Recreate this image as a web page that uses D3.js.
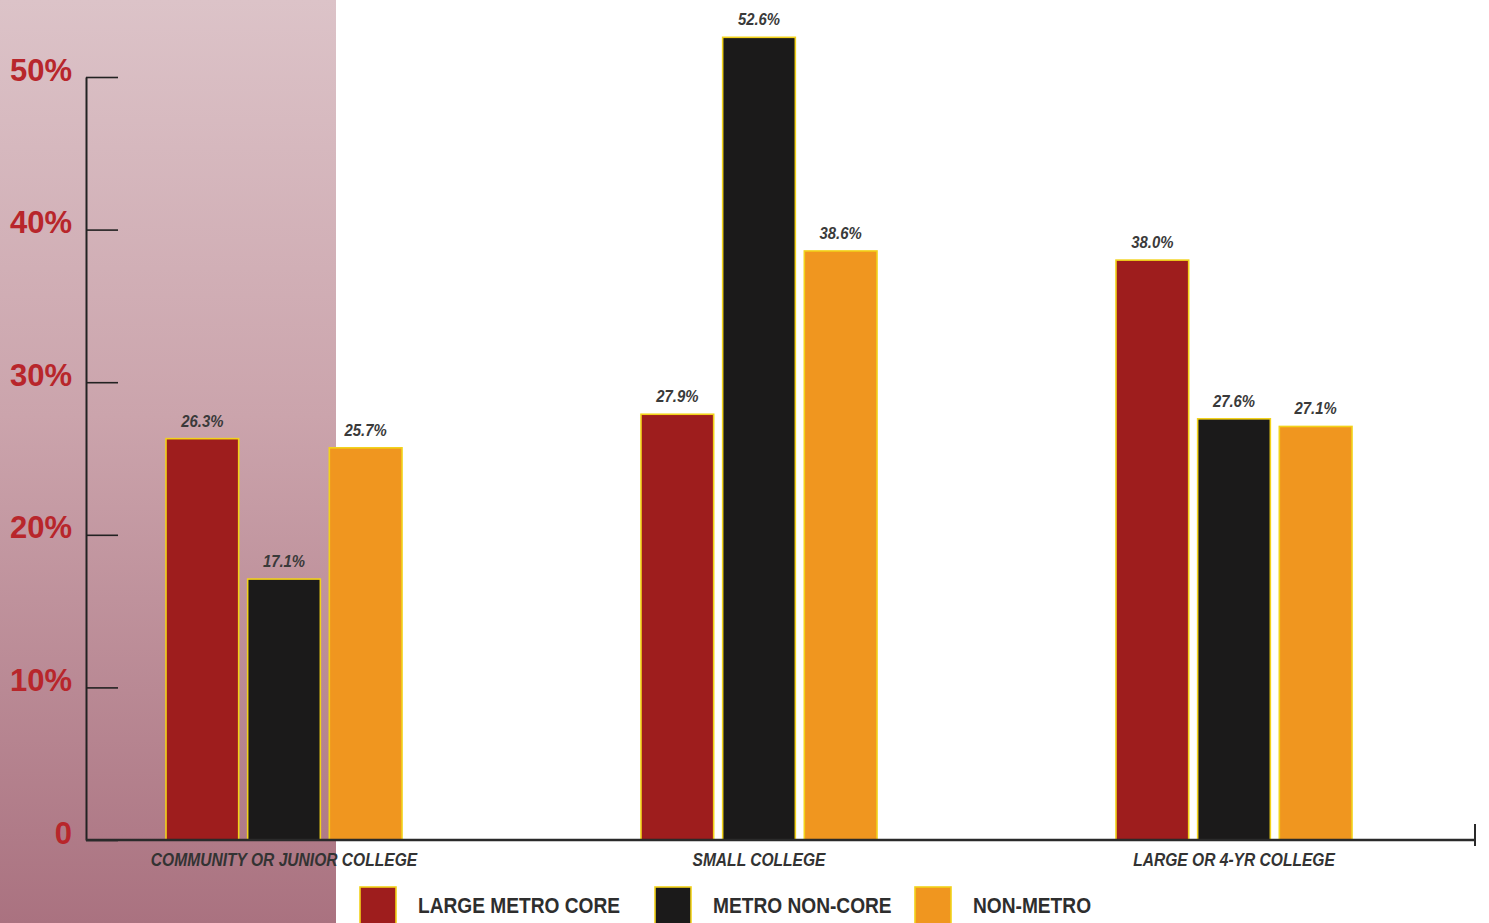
<!DOCTYPE html>
<html>
<head>
<meta charset="utf-8">
<script src="https://cdn.jsdelivr.net/npm/d3@7"></script>
<style>
  html, body { margin: 0; padding: 0; background: #ffffff; overflow: hidden; }
  svg { display: block; }
</style>
</head>
<body>
<svg id="chart" width="1489" height="923"></svg>
<script>
// ---- data ----
const categories = ["COMMUNITY OR JUNIOR COLLEGE", "SMALL COLLEGE", "LARGE OR 4-YR COLLEGE"];
const seriesNames = ["LARGE METRO CORE", "METRO NON-CORE", "NON-METRO"];
const largeMetroCore = [26.3, 27.9, 38.0];
const metroNonCore = [17.1, 52.6, 27.6];
const nonMetro = [25.7, 38.6, 27.1];
const yTicks = [0, 10, 20, 30, 40, 50];
const seriesColors = ["#9e1d1d", "#1b1a1a", "#f0961f"];

const seriesValues = [largeMetroCore, metroNonCore, nonMetro];
const rows = categories.map((c, i) => ({
  category: c,
  values: seriesNames.map((s, j) => ({ series: s, value: seriesValues[j][i] }))
}));

const svg = d3.select("#chart");
const sansFont = "'Liberation Sans', Arial, Helvetica, sans-serif";

// horizontally condense text (reference uses a condensed face)
function squeeze(sel, factor) {
  sel.each(function () {
    const w = this.getComputedTextLength();
    d3.select(this).attr("textLength", w * factor).attr("lengthAdjust", "spacingAndGlyphs");
  });
}

// background panel gradient
const defs = svg.append("defs");
const grad = defs.append("linearGradient").attr("id", "bg").attr("x1", 0).attr("y1", 0).attr("x2", 0).attr("y2", 1);
grad.append("stop").attr("offset", "0%").attr("stop-color", "#dcc3c8");
grad.append("stop").attr("offset", "45%").attr("stop-color", "#cba4ac");
grad.append("stop").attr("offset", "100%").attr("stop-color", "#aa7280");
svg.append("rect").attr("x", 0).attr("y", 0).attr("width", 336).attr("height", 923).attr("fill", "url(#bg)");

// scales
const y = d3.scaleLinear().domain([0, 50]).range([840, 77]);
const x0 = d3.scaleBand().domain(categories).range([46.5, 1471.5]).padding(0);
const x1 = d3.scaleBand().domain(seriesNames).range([-118, 118]).paddingInner(0.11);
const color = d3.scaleOrdinal().domain(seriesNames).range(seriesColors);

// bars
const groups = svg.append("g").selectAll("g").data(rows).join("g")
  .attr("transform", d => `translate(${x0(d.category) + x0.bandwidth() / 2},0)`);

groups.selectAll("rect").data(d => d.values).join("rect")
  .attr("x", d => x1(d.series))
  .attr("y", d => y(d.value))
  .attr("width", x1.bandwidth())
  .attr("height", d => y(0) - y(d.value))
  .attr("fill", d => color(d.series))
  .attr("stroke", "#f2d21a")
  .attr("stroke-width", 1.6);

const vals = groups.selectAll("text.val").data(d => d.values).join("text")
  .attr("class", "val")
  .attr("x", d => x1(d.series) + x1.bandwidth() / 2)
  .attr("y", d => y(d.value) - 12)
  .attr("text-anchor", "middle")
  .attr("font-family", sansFont)
  .attr("font-style", "italic")
  .attr("font-weight", "bold")
  .attr("font-size", 16)
  .attr("fill", "#3a3a3a")
  .text(d => d.value.toFixed(1) + "%");
squeeze(vals, 0.93);

// y axis
const yAxis = d3.axisLeft(y)
  .tickValues(yTicks)
  .tickSizeInner(-32)
  .tickSizeOuter(0)
  .tickPadding(14)
  .tickFormat(d => d === 0 ? "0" : d + "%");

const yg = svg.append("g").attr("transform", "translate(86,0)").call(yAxis);
yg.select(".domain").attr("stroke", "#222").attr("stroke-width", 2);
yg.selectAll(".tick line").attr("stroke", "#222").attr("stroke-width", 1.6);
yg.selectAll(".tick text")
  .attr("dy", "0.1em")
  .attr("font-family", sansFont)
  .attr("font-weight", "bold")
  .attr("font-size", 31)
  .attr("fill", "#b8262b");

// x axis line
svg.append("line").attr("x1", 86).attr("x2", 1475).attr("y1", y(0)).attr("y2", y(0))
  .attr("stroke", "#2a2a2a").attr("stroke-width", 2.5);
svg.append("line").attr("x1", 1475).attr("x2", 1475).attr("y1", y(0) - 16).attr("y2", y(0) + 6)
  .attr("stroke", "#2a2a2a").attr("stroke-width", 2);

// category labels
const xAxis = d3.axisBottom(x0).tickSize(0).tickPadding(13);
const xg = svg.append("g").attr("transform", `translate(0,${y(0)})`).call(xAxis);
xg.select(".domain").remove();
const catText = xg.selectAll(".tick text")
  .attr("font-family", sansFont)
  .attr("font-style", "italic")
  .attr("font-weight", "bold")
  .attr("font-size", 19)
  .attr("fill", "#333");
squeeze(catText, 0.82);

// legend
const legendX = [360, 655, 915];
const legend = svg.append("g").selectAll("g").data(seriesNames).join("g")
  .attr("transform", (d, i) => `translate(${legendX[i]},887)`);
legend.append("rect")
  .attr("width", 36).attr("height", 40)
  .attr("fill", d => color(d))
  .attr("stroke", "#f2d21a").attr("stroke-width", 1.6);
const legText = legend.append("text")
  .attr("x", 58).attr("y", 18).attr("dy", "0.35em")
  .attr("font-family", sansFont)
  .attr("font-weight", "bold")
  .attr("font-size", 22)
  .attr("fill", "#2e2e2e")
  .text(d => d);
squeeze(legText, 0.87);
</script>
</body>
</html>
